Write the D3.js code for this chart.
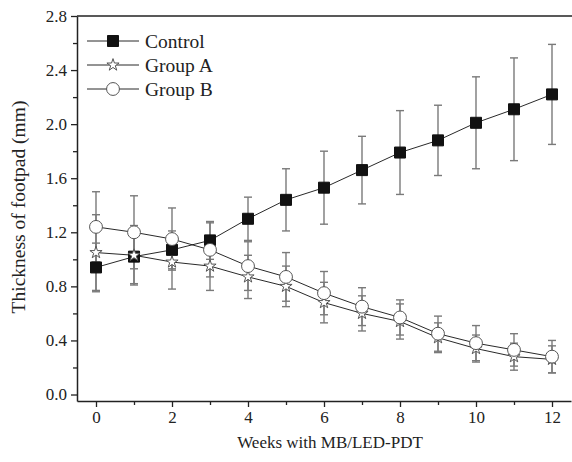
<!DOCTYPE html>
<html>
<head>
<meta charset="utf-8">
<script src="https://cdn.jsdelivr.net/npm/d3@7"></script>
<style>
  body { margin: 0; background: #fff; }
  svg { display: block; font-family: "Liberation Serif", "Times New Roman", serif; }
</style>
</head>
<body>
<script>
// Data
const weeks = [0, 1, 2, 3, 4, 5, 6, 7, 8, 9, 10, 11, 12];
const controlMean = [0.94, 1.02, 1.07, 1.14, 1.30, 1.44, 1.53, 1.66, 1.79, 1.88, 2.01, 2.11, 2.22];
const controlErr  = [0.18, 0.20, 0.14, 0.14, 0.16, 0.23, 0.27, 0.25, 0.31, 0.26, 0.34, 0.38, 0.37];
const groupAMean  = [1.05, 1.03, 0.98, 0.95, 0.87, 0.80, 0.68, 0.60, 0.54, 0.42, 0.34, 0.28, 0.26];
const groupAErr   = [0.28, 0.22, 0.20, 0.18, 0.16, 0.15, 0.15, 0.13, 0.13, 0.11, 0.10, 0.10, 0.10];
const groupBMean  = [1.24, 1.20, 1.15, 1.07, 0.95, 0.87, 0.75, 0.65, 0.57, 0.45, 0.38, 0.33, 0.28];
const groupBErr   = [0.26, 0.27, 0.23, 0.20, 0.18, 0.18, 0.16, 0.14, 0.13, 0.13, 0.13, 0.12, 0.12];
const seriesNames = ["Control", "Group A", "Group B"];
const xTicks = [0, 2, 4, 6, 8, 10, 12];
const yTicks = [0.0, 0.4, 0.8, 1.2, 1.6, 2.0, 2.4, 2.8];

const W = 572, H = 462;
const margin = { top: 16, right: 1, bottom: 61, left: 77 };

const svg = d3.select("body").append("svg")
  .attr("width", W)
  .attr("height", H);

const x = d3.scaleLinear().domain([-0.5, 12.5]).range([margin.left, W - margin.right]);
const y = d3.scaleLinear().domain([-0.048, 2.8]).range([H - margin.bottom, margin.top]);

const series = [
  { name: seriesNames[0], mean: controlMean, err: controlErr, symbol: d3.symbolSquare, size: 121, fill: "#111", stroke: "#111" },
  { name: seriesNames[1], mean: groupAMean, err: groupAErr, symbol: d3.symbolStar, size: 46, fill: "#fff", stroke: "#555" },
  { name: seriesNames[2], mean: groupBMean, err: groupBErr, symbol: d3.symbolCircle, size: 130, fill: "#fff", stroke: "#555" }
];

// error bars
series.forEach(s => {
  const g = svg.append("g").attr("stroke", "#7a7a7a").attr("stroke-width", 1.4);
  weeks.forEach((w, i) => {
    const hi = y(s.mean[i] + s.err[i]), lo = y(s.mean[i] - s.err[i]);
    g.append("line").attr("x1", x(w)).attr("x2", x(w)).attr("y1", hi).attr("y2", lo);
    g.append("line").attr("x1", x(w) - 4).attr("x2", x(w) + 4).attr("y1", hi).attr("y2", hi);
    g.append("line").attr("x1", x(w) - 4).attr("x2", x(w) + 4).attr("y1", lo).attr("y2", lo);
  });
});

// connecting lines
const line = d3.line().x(d => x(d[0])).y(d => y(d[1]));
series.forEach(s => {
  svg.append("path")
    .attr("d", line(weeks.map((w, i) => [w, s.mean[i]])))
    .attr("fill", "none")
    .attr("stroke", "#111")
    .attr("stroke-width", 0.9);
});

// markers
series.forEach(s => {
  svg.append("g").selectAll("path")
    .data(weeks)
    .join("path")
    .attr("transform", (w, i) => `translate(${x(w)},${y(s.mean[i])})`)
    .attr("d", d3.symbol(s.symbol, s.size))
    .attr("fill", s.fill)
    .attr("stroke", s.stroke)
    .attr("stroke-width", 1);
});

// axes
svg.append("g")
  .attr("transform", `translate(0,${H - margin.bottom})`)
  .call(d3.axisBottom(x).tickValues(xTicks).tickSize(6).tickSizeOuter(0).tickPadding(4).tickFormat(d3.format("d")));
const xMinor = svg.append("g")
  .attr("transform", `translate(0,${H - margin.bottom})`)
  .call(d3.axisBottom(x).tickValues(weeks.filter(w => w % 2 === 1)).tickSize(4).tickSizeOuter(0).tickFormat(""));
xMinor.select(".domain").remove();

svg.append("g")
  .attr("transform", `translate(${margin.left},0)`)
  .call(d3.axisLeft(y).tickValues(yTicks).tickSize(6).tickSizeOuter(0).tickPadding(4).tickFormat(d3.format(".1f")));
const yMinor = svg.append("g")
  .attr("transform", `translate(${margin.left},0)`)
  .call(d3.axisLeft(y).tickValues(yTicks.slice(0, -1).map(v => v + 0.2)).tickSize(4).tickSizeOuter(0).tickFormat(""));
yMinor.select(".domain").remove();

svg.selectAll(".domain").attr("stroke", "#222").attr("stroke-width", 1.5);
svg.selectAll(".tick line").attr("stroke", "#222").attr("stroke-width", 1.3);
svg.selectAll(".tick text")
  .attr("fill", "#222")
  .style("font-family", "'Liberation Serif', serif")
  .style("font-size", "17px");

// top frame line (no right edge in the original)
svg.append("line")
  .attr("x1", margin.left).attr("x2", W)
  .attr("y1", margin.top).attr("y2", margin.top)
  .attr("stroke", "#222").attr("stroke-width", 1.5);

// axis titles
svg.append("text")
  .attr("x", (margin.left + W - margin.right) / 2 + 6)
  .attr("y", 448)
  .attr("text-anchor", "middle")
  .attr("fill", "#222")
  .style("font-size", "17px")
  .text("Weeks with MB/LED-PDT");

svg.append("text")
  .attr("transform", "translate(25,207) rotate(-90)")
  .attr("text-anchor", "middle")
  .attr("fill", "#222")
  .style("font-size", "19.5px")
  .text("Thickness of footpad (mm)");

// legend
const legend = svg.append("g").attr("transform", "translate(87,41)");
series.forEach((s, i) => {
  const row = legend.append("g").attr("transform", `translate(0,${i * 24})`);
  row.append("line").attr("x1", 0).attr("x2", 52).attr("y1", 0).attr("y2", 0)
    .attr("stroke", "#111").attr("stroke-width", 0.9);
  row.append("path")
    .attr("transform", "translate(26,0)")
    .attr("d", d3.symbol(s.symbol, s.size))
    .attr("fill", s.fill).attr("stroke", s.stroke).attr("stroke-width", 1);
  row.append("text")
    .attr("x", 58).attr("y", 0).attr("dy", "0.35em")
    .attr("fill", "#222")
    .style("font-size", "19.5px")
    .text(s.name);
});
</script>
</body>
</html>
